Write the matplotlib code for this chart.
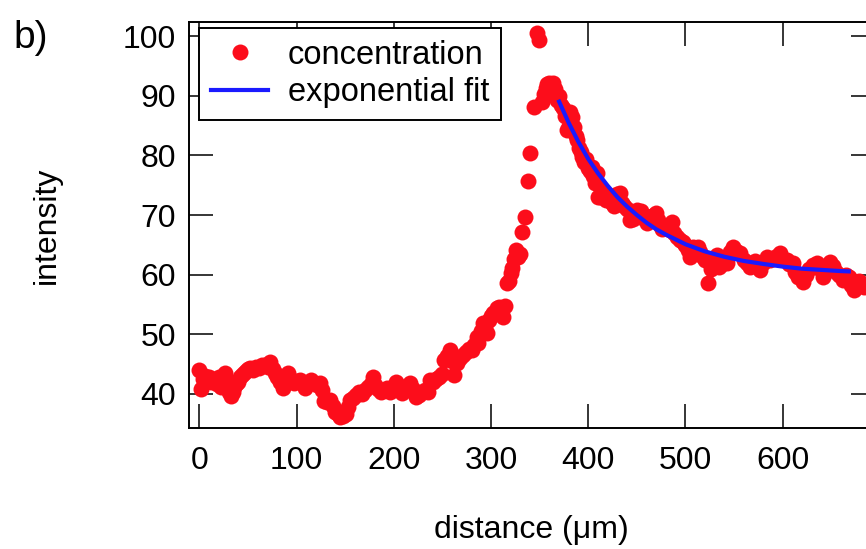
import matplotlib
matplotlib.use("Agg")
import matplotlib.pyplot as plt

plt.rcParams['font.family'] = ['Liberation Sans', 'DejaVu Sans']

distance = [0, 2, 4, 6, 8, 10, 12, 14, 16, 18, 20, 22, 24, 26, 28, 30, 32, 34, 36, 38,
            40, 42, 44, 46, 48, 50, 52, 55, 58, 61, 64, 67, 70, 73, 76, 78, 80, 83, 86, 88,
            91, 94, 97, 100, 103, 106, 109, 112, 115, 118, 121, 124, 126, 128, 131, 134, 137, 139, 142, 145,
            148, 151, 153, 155, 158, 161, 164, 167, 170, 173, 176, 178, 181, 184, 187, 190, 193, 196, 199, 202,
            205, 208, 211, 214, 217, 220, 223, 226, 229, 232, 235, 237, 240, 243, 246, 249, 252, 255, 258, 260,
            262, 265, 268, 271, 274, 277, 280, 282, 285, 287, 290, 292, 294, 296, 298, 300, 302, 304, 306, 308,
            310, 312, 314, 316, 318, 320, 322, 324, 326, 328, 330, 332, 335, 338, 340, 344, 347, 349, 352, 354,
            356, 358, 360, 362, 364, 366, 368, 370, 372, 374, 376, 378, 380, 381, 383, 385, 387, 388, 390, 392,
            394, 396, 398, 400, 402, 404, 405, 407, 409, 410, 412, 414, 416, 418, 420, 422, 424, 426, 428, 430,
            433, 435, 437, 440, 443, 446, 448, 450, 452, 454, 456, 458, 460, 462, 464, 466, 468, 470, 472, 474,
            476, 478, 480, 482, 484, 486, 488, 491, 494, 497, 500, 503, 505, 508, 511, 513, 515, 518, 520, 523,
            526, 528, 530, 532, 535, 538, 540, 543, 546, 549, 552, 556, 560, 563, 566, 569, 572, 575, 577, 580,
            584, 587, 590, 594, 597, 600, 604, 607, 611, 613, 616, 619, 621, 624, 627, 631, 635, 638, 642, 645,
            649, 652, 655, 658, 662, 665, 668, 670, 673, 676, 679, 681, 684]

intensity = [44.0, 40.8, 42.5, 43.0, 42.6, 42.8, 42.0, 42.4, 42.3, 41.6, 42.8, 41.2, 42.6, 43.5, 42.2, 40.3, 39.6, 40.4, 41.2, 41.6,
             42.0, 42.8, 43.2, 43.6, 43.9, 44.2, 44.4, 44.0, 44.5, 44.3, 44.8, 44.9, 44.6, 45.4, 44.2, 43.5, 42.8, 42.0, 41.0, 42.0,
             43.5, 42.3, 41.8, 42.2, 42.3, 41.6, 41.0, 41.8, 42.3, 41.8, 41.5, 41.8, 40.7, 38.9, 38.6, 39.0, 38.0, 37.0, 36.6, 36.2,
             36.3, 36.6, 37.8, 39.0, 39.3, 39.8, 40.3, 40.0, 40.7, 41.2, 41.6, 42.8, 41.5, 40.8, 40.3, 40.6, 41.0, 40.3, 41.2, 42.0,
             41.3, 40.2, 40.8, 41.4, 41.8, 40.9, 39.5, 39.9, 40.4, 40.6, 40.3, 42.3, 42.0, 42.5, 42.8, 43.4, 45.7, 46.3, 47.4, 45.5,
             43.2, 45.2, 46.0, 46.6, 47.0, 47.6, 47.4, 48.2, 49.5, 48.6, 50.6, 51.9, 51.4, 50.2, 52.4, 53.1, 53.6, 53.8, 54.4, 54.6,
             54.2, 52.9, 54.7, 58.6, 58.9, 60.3, 61.2, 62.6, 64.1, 62.9, 63.4, 67.1, 69.6, 75.7, 80.4, 88.1, 100.5, 99.3, 88.9, 90.2,
             91.3, 92.0, 92.1, 91.6, 92.2, 91.2, 89.2, 90.0, 88.5, 88.0, 86.6, 84.2, 85.0, 87.2, 86.5, 84.7, 83.2, 82.5, 81.3, 80.5,
             79.7, 78.9, 79.4, 77.8, 77.3, 78.0, 76.5, 75.3, 77.0, 73.0, 73.0, 74.2, 73.6, 72.5, 73.2, 73.0, 72.0, 71.5, 72.3, 73.5,
             73.7, 72.0, 71.5, 71.0, 69.1, 69.3, 70.3, 70.8, 70.0, 70.6, 69.5, 69.8, 68.6, 69.0, 69.1, 69.8, 70.0, 70.3, 69.2, 68.4,
             67.6, 67.8, 68.2, 68.0, 67.5, 68.8, 67.0, 66.3, 65.8, 65.5, 65.0, 64.2, 63.0, 64.6, 64.0, 64.6, 63.8, 63.0, 62.5, 58.6,
             61.0, 61.3, 62.2, 63.3, 61.3, 61.8, 62.4, 62.0, 63.8, 64.6, 64.0, 63.6, 62.5, 62.0, 61.3, 61.8, 62.3, 61.5, 60.8, 62.0,
             63.0, 62.4, 62.8, 63.2, 63.6, 62.6, 62.4, 61.8, 61.9, 60.4, 59.6, 59.8, 58.8, 60.0, 61.0, 61.6, 61.9, 61.0, 59.6, 60.6,
             62.1, 61.4, 60.5, 60.0, 59.1, 60.0, 59.6, 58.2, 57.4, 58.5, 59.0, 58.6, 58.0]

fit_distance = [370, 380, 390, 400, 410, 420, 430, 440, 450, 460, 470, 480, 490, 500,
                520, 540, 560, 580, 600, 620, 640, 660, 668]
fit_intensity = [89.0, 85.4, 82.2, 79.4, 77.0, 74.9, 73.0, 71.4, 70.0, 68.7, 67.6, 66.7, 65.9, 65.1,
                 63.9, 63.0, 62.3, 61.8, 61.35, 61.0, 60.8, 60.6, 60.55]

xticks = [0, 100, 200, 300, 400, 500, 600]
yticks = [40, 50, 60, 70, 80, 90, 100]

fig = plt.figure(figsize=(8.66, 5.49), dpi=100)
ax = fig.add_axes([188.75 / 866, 1 - 428 / 549, (875 - 188.75) / 866, (428 - 22) / 549])

ax.plot(distance, intensity, 'o', color='#fc0d1b', markersize=11.5, markeredgewidth=0,
        label='concentration', zorder=2)
ax.plot(fit_distance, fit_intensity, '-', color='#1a1aff', linewidth=3.0,
        label='exponential fit', zorder=3)

ax.set_xlim(-11.06, 695)
ax.set_ylim(34.3, 102.35)
ax.set_xticks(xticks)
ax.set_yticks(yticks)
ax.tick_params(direction='in', length=17, width=1.1, labelsize=23,
               top=True, right=True, bottom=True, left=True)
ax.tick_params(axis='x', pad=13)
ax.tick_params(axis='y', pad=9)
for s in ax.spines.values():
    s.set_linewidth(1.4)

ax.set_xlabel('distance (μm)', fontsize=23, labelpad=28)
ax.set_ylabel('intensity', fontsize=23, labelpad=44)

leg = ax.legend(loc='upper left', bbox_to_anchor=(0.0155, 0.985), fontsize=23.5,
                frameon=True, fancybox=False, edgecolor='black', framealpha=1,
                borderpad=0.36, handlelength=1.75, handletextpad=0.6,
                labelspacing=0.2, borderaxespad=0.0)
leg.get_frame().set_linewidth(1.4)

fig.text(13 / 866, 1 - 38 / 549, 'b)', fontsize=28, va='center', ha='left')

fig.savefig('out.png', dpi=100)
